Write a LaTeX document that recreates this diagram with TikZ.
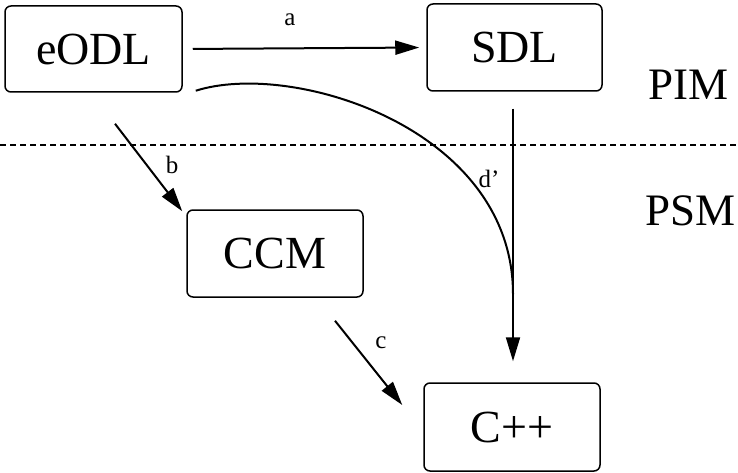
\documentclass[tikz,border=0pt]{standalone}
\usepackage{fontspec}
\setmainfont{Liberation Serif}
\usetikzlibrary{arrows.meta,calc}
\begin{document}
\begin{tikzpicture}[x=1pt,y=-1pt,
  box/.style={draw,line width=1.5pt,rounded corners=6pt,inner sep=0pt,
    font=\fontsize{46}{50}\selectfont},
  flow/.style={line width=2pt,-{Triangle[length=24pt,width=14pt]}},
  lbl/.style={font=\fontsize{25}{28}\selectfont,inner sep=0pt},
  layer/.style={font=\fontsize{45}{50}\selectfont,inner sep=0pt,anchor=base west}]
  \useasboundingbox (0,0) rectangle (738,473);

  % model boxes
  \node[box,minimum width=177pt,minimum height=86pt] (eodl) at (93.5,49) {eODL};
  \node[box,minimum width=175pt,minimum height=87pt] (sdl) at (514.5,47.5) {SDL};
  \node[box,minimum width=176pt,minimum height=87pt] (ccm) at (275,253.5) {CCM};
  \node[box,minimum width=176pt,minimum height=88pt] (cpp) at (512,427) {C++};

  % layer separator and layer names
  \draw[line width=1.1pt,dash pattern=on 6pt off 4pt] (0,145) -- (738,145);
  \node[layer] (pim) at (648,100) {PIM};
  \node[layer] (psm) at (645,225) {PSM};

  % transformation end points
  \coordinate (b1) at ($(eodl.south)+(21.5,31)$);
  \coordinate (b2) at ($(ccm.north west)+(-4,2)$);
  \coordinate (c1) at ($(ccm.south)+(60,23)$);
  \coordinate (c2) at ($(cpp.west)+(-21,-22)$);
  \coordinate (d1) at ($(sdl.south)+(-1.5,17)$);
  \coordinate (d2) at ($(cpp.north)+(1,-21)$);
  \coordinate (e1) at ($(eodl.south east)+(13,-2)$);
  \coordinate (e2) at ($(cpp.north)+(1,-88)$);

  % transformations
  \draw[flow,shorten <=10pt,shorten >=7pt] (eodl.east) -- (sdl.west);
  \draw[flow] (b1) -- (b2);
  \draw[flow] (c1) -- (c2);
  \draw[flow] (d1) -- (d2);
  \draw[line width=2pt] (e1) .. controls (292,60) and (513,128) .. (e2);

  % labels
  \node[lbl] (la) at (290,20) {a};
  \node[lbl] (lb) at (172,165) {b};
  \node[lbl] (lc) at (381,343) {c};
  \node[lbl] (ld) at (489,179) {d’};
\end{tikzpicture}
\end{document}
